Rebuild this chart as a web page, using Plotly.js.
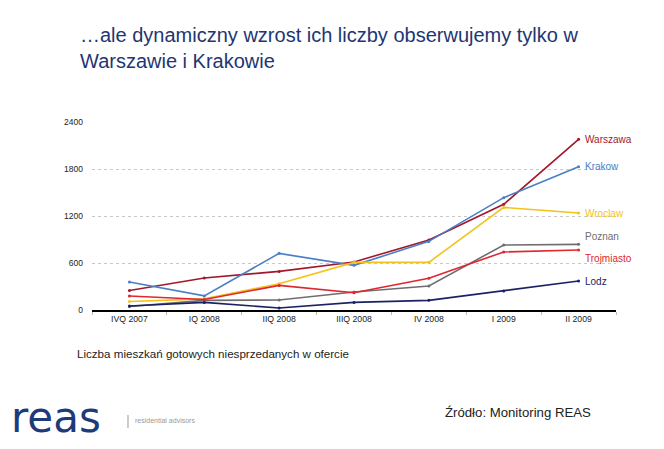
<!DOCTYPE html>
<html><head><meta charset="utf-8">
<script src="https://cdn.plot.ly/plotly-3.0.1.min.js"></script>
<style>html,body{margin:0;padding:0;background:#fff}#chart{width:664px;height:449px}</style>
</head><body><div id="chart"></div>
<script>
const categories = ["IVQ 2007","IQ 2008","IIQ 2008","IIIQ 2008","IV 2008","I 2009","II 2009"];
const warszawa   = [250, 409, 493, 613, 894, 1349, 2179];
const krakow     = [358, 180, 723, 570, 876, 1434, 1830];
const wroclaw    = [108, 142, 336, 608, 608, 1310, 1238];
const poznan     = [45, 123, 128, 230, 306, 830, 838];
const trojmiasto = [179, 135, 314, 220, 404, 741, 766];
const lodz       = [52, 97, 25, 97, 123, 242, 370];
const seriesNames = ["Warszawa","Krakow","Wroclaw","Poznan","Trojmiasto","Lodz"];
const seriesData = [warszawa, krakow, wroclaw, poznan, trojmiasto, lodz];
const colors = ["#A3172B","#4A7FC6","#F2C31A","#6E6E6E","#E0262E","#1B2263"];
const labelShift = [0, 0, 0, 8, -8, 0];

const font = "Liberation Sans, Arial, sans-serif";
const traces = seriesNames.map((n,i)=>({
  type:"scatter", mode:"lines+markers", name:n, x:categories, y:seriesData[i],
  line:{color:colors[i], width:1.6}, marker:{color:colors[i], size:3}
}));
const annotations = seriesNames.map((n,i)=>({
  x:categories[categories.length-1], y:seriesData[i][seriesData[i].length-1],
  xref:"x", yref:"y", text:n, showarrow:false, xanchor:"left", xshift:4, yshift:labelShift[i],
  font:{family:font, size:10, color:colors[i]}
}));
annotations.push(
  {xref:"paper", yref:"paper", x:-0.0324, y:-0.229, xanchor:"left", yanchor:"middle", showarrow:false,
   text:"Liczba mieszkań gotowych niesprzedanych w ofercie", font:{family:font, size:11.6, color:"#222"}},
  {xref:"paper", yref:"paper", x:0.67, y:-0.543, xanchor:"left", yanchor:"middle", showarrow:false,
   text:"Źródło: Monitoring REAS", font:{family:font, size:13.2, color:"#222"}},
  {xref:"paper", yref:"paper", x:-0.158, y:-0.57, xanchor:"left", yanchor:"middle", showarrow:false,
   text:"reas", font:{family:"DejaVu Sans, sans-serif", size:42, color:"#1D3A7A"}},
  {xref:"paper", yref:"paper", x:0.078, y:-0.59, xanchor:"left", yanchor:"middle", showarrow:false,
   text:"residential advisors", font:{family:font, size:7, color:"#999"}}
);
const layout = {
  width:664, height:449,
  margin:{l:92, r:48, t:122, b:139},
  paper_bgcolor:"#fff", plot_bgcolor:"#fff",
  showlegend:false,
  title:{text:"…ale dynamiczny wzrost ich liczby obserwujemy tylko w<br>Warszawie i Krakowie",
    x:80/664, xanchor:"left", y:0.907, yanchor:"top",
    font:{family:font, size:20, color:"#1E3672"}},
  xaxis:{type:"category", range:[-0.5,6.5], showgrid:false, showline:true, linecolor:"#000", linewidth:1.5,
    ticks:"outside", tickson:"boundaries", ticklen:3, tickcolor:"#bbb",
    tickfont:{family:font, size:8.7, color:"#222"}, fixedrange:true, zeroline:false},
  yaxis:{range:[0,2400], tickvals:[0,600,1200,1800,2400], showgrid:true, gridcolor:"#c8c8c8", griddash:"dot",
    zeroline:false, showline:false, ticks:"", ticklabelstandoff:8,
    tickfont:{family:font, size:8.5, color:"#222"}},
  shapes:[{type:"line", xref:"paper", yref:"paper", x0:0.0687, x1:0.0687, y0:-0.5585, y1:-0.6277, line:{color:"#999", width:1}}],
  annotations:annotations
};
Plotly.newPlot("chart", traces, layout, {displayModeBar:false, staticPlot:true});
</script></body></html>
